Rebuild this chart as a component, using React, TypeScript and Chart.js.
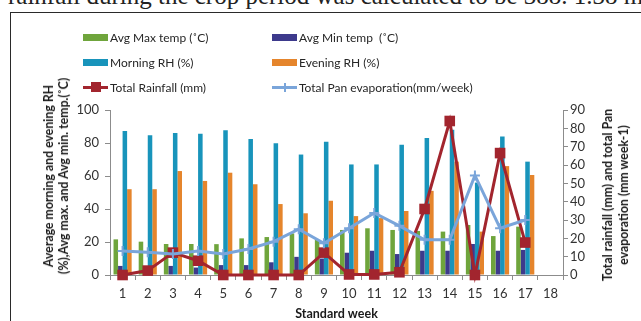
import React, { useEffect, useRef } from "react";
import { Chart, registerables } from "chart.js";

Chart.register(...registerables);

// ---- data ----
const weeks = ["1", "2", "3", "4", "5", "6", "7", "8", "9", "10", "11", "12", "13", "14", "15", "16", "17", "18"];
const avgMaxTemp = [21.6, 20.2, 18.8, 18.8, 18.7, 22.2, 23, 25.2, 21.2, 27.3, 28.3, 27.3, 26.7, 26.3, 30.3, 23.6, 29.3, null];
const avgMinTemp = [5.5, 5, 5.5, 4.5, 6, 6, 7.7, 11, 10, 13.5, 14.7, 12.7, 14.7, 14.7, 18.8, 14.7, 15.2, null];
const morningRH = [87.3, 84.7, 86, 85.6, 87.7, 82.4, 79.8, 73, 80.8, 67, 67, 79, 83, 88, 56, 84, 68.7, null];
const eveningRH = [52, 52, 63, 57, 62, 55, 43, 37.4, 45, 35.7, 34.5, 38.8, 51, 68.7, 26.3, 66, 60.6, null];
const totalRainfall = [0, 2.4, 12.2, 7.8, 0, 0, 0, 0, 12.2, 0.3, 0.3, 1.5, 36, 84, 0, 66.5, 17.7, null];
const panEvaporation = [13.1, 12.4, 11.5, 13.1, 11.5, 14.2, 18.2, 25, 17.3, 25.5, 33.8, 26.8, 19.2, 19.2, 54.3, 25.5, 30, null];
const leftTicks = [0, 20, 40, 60, 80, 100];
const rightTicks = [0, 10, 20, 30, 40, 50, 60, 70, 80, 90];

const FONT = "Lato, 'Open Sans', sans-serif";
const COLORS = {
  maxT: "#6fa53c",
  minT: "#3d3a8c",
  morn: "#1894bb",
  eve: "#e5852c",
  rain: "#a2252e",
  pan: "#7aa5da",
  axis: "#8c8c8c",
  text: "#333333",
};

type LegendItem = { label: string; color: string; kind: "bar" | "rect" | "cross" };
const legendItems: LegendItem[] = [
  { label: "Avg Max temp (˚C)", color: COLORS.maxT, kind: "bar" },
  { label: "Avg Min temp  (˚C)", color: COLORS.minT, kind: "bar" },
  { label: "Morning RH (%)", color: COLORS.morn, kind: "bar" },
  { label: "Evening RH (%)", color: COLORS.eve, kind: "bar" },
  { label: "Total Rainfall (mm)", color: COLORS.rain, kind: "rect" },
  { label: "Total Pan evaporation(mm/week)", color: COLORS.pan, kind: "cross" },
];

function Swatch({ item }: { item: LegendItem }) {
  if (item.kind === "bar") {
    return <div style={{ width: 25, height: 7, background: item.color }} />;
  }
  return (
    <div style={{ position: "relative", width: 25, height: 14 }}>
      <div style={{ position: "absolute", left: 0, top: 5.5, width: 25, height: 3, background: item.color }} />
      {item.kind === "rect" ? (
        <div style={{ position: "absolute", left: 7.5, top: 2, width: 10, height: 10, background: item.color }} />
      ) : (
        <>
          <div style={{ position: "absolute", left: 8, top: 6, width: 9, height: 2, background: item.color }} />
          <div style={{ position: "absolute", left: 11.5, top: 2.5, width: 2, height: 9, background: item.color }} />
        </>
      )}
    </div>
  );
}

export default function App() {
  const ref = useRef<HTMLCanvasElement>(null);

  useEffect(() => {
    document.body.style.margin = "0";
    const tickFont = { family: FONT, size: 13 };
    const chart = new Chart(ref.current as HTMLCanvasElement, {
      type: "bar",
      data: {
        labels: weeks,
        datasets: [
          {
            type: "line",
            label: legendItems[5].label,
            data: panEvaporation,
            yAxisID: "y1",
            borderColor: COLORS.pan,
            backgroundColor: COLORS.pan,
            borderWidth: 3,
            pointStyle: "cross",
            pointRadius: 5,
            pointBorderWidth: 2,
            pointBorderColor: COLORS.pan,
            tension: 0,
            clip: false,
            order: 0,
          } as any,
          {
            type: "line",
            label: legendItems[4].label,
            data: totalRainfall,
            yAxisID: "y1",
            borderColor: COLORS.rain,
            backgroundColor: COLORS.rain,
            borderWidth: 3,
            pointStyle: "rect",
            pointRadius: 7.5,
            pointBorderWidth: 0,
            pointBackgroundColor: COLORS.rain,
            tension: 0,
            clip: false,
            order: 1,
          } as any,
          { type: "bar", label: legendItems[0].label, data: avgMaxTemp, backgroundColor: COLORS.maxT, yAxisID: "y", order: 2 } as any,
          { type: "bar", label: legendItems[1].label, data: avgMinTemp, backgroundColor: COLORS.minT, yAxisID: "y", order: 2 } as any,
          { type: "bar", label: legendItems[2].label, data: morningRH, backgroundColor: COLORS.morn, yAxisID: "y", order: 2 } as any,
          { type: "bar", label: legendItems[3].label, data: eveningRH, backgroundColor: COLORS.eve, yAxisID: "y", order: 2 } as any,
        ],
      },
      options: {
        animation: false,
        responsive: false,
        events: [],
        layout: { padding: { top: 110, left: 0, right: 0, bottom: 0 } },
        datasets: {
          bar: { categoryPercentage: 0.72, barPercentage: 1, borderWidth: 0 },
        } as any,
        plugins: { legend: { display: false }, tooltip: { enabled: false } },
        scales: {
          x: {
            offset: true,
            grid: { display: true, drawOnChartArea: false, drawTicks: true, tickLength: 5, color: COLORS.axis, offset: true },
            border: { display: true, color: COLORS.axis, width: 1 },
            ticks: { font: tickFont, color: COLORS.text, padding: 6, maxRotation: 0, autoSkip: false },
            title: {
              display: true,
              text: "Standard week",
              font: { family: FONT, size: 12.5, weight: "bold" },
              color: "#1a1a1a",
              padding: { top: 0, bottom: 0 },
            },
            afterFit: (s: any) => {
              s.height = 46;
            },
          },
          y: {
            position: "left",
            min: 0,
            max: 100,
            afterBuildTicks: (s: any) => {
              s.ticks = leftTicks.map((v) => ({ value: v }));
            },
            grid: { display: true, drawOnChartArea: false, drawTicks: true, tickLength: 5, color: COLORS.axis },
            border: { display: true, color: COLORS.axis, width: 1 },
            ticks: { font: tickFont, color: COLORS.text, padding: 6, autoSkip: false },
            afterFit: (s: any) => {
              s.width = 110;
            },
          },
          y1: {
            position: "right",
            min: 0,
            max: 90,
            afterBuildTicks: (s: any) => {
              s.ticks = rightTicks.map((v) => ({ value: v }));
            },
            grid: { display: true, drawOnChartArea: false, drawTicks: true, tickLength: 5, color: COLORS.axis },
            border: { display: true, color: COLORS.axis, width: 1 },
            ticks: { font: tickFont, color: COLORS.text, padding: 2, autoSkip: false },
            afterFit: (s: any) => {
              s.width = 78;
            },
          },
        },
      } as any,
    });
    return () => chart.destroy();
  }, []);

  const colX = [83, 272];
  const rowY = [37, 62, 87];

  return (
    <div
      style={{
        position: "absolute",
        left: 0,
        top: 0,
        width: 641,
        height: 321,
        overflow: "hidden",
        background: "#fff",
        fontFamily: FONT,
      }}
    >
      <div
        style={{
          position: "absolute",
          left: 8,
          top: -17,
          whiteSpace: "nowrap",
          fontFamily: "'Liberation Serif', 'Times New Roman', serif",
          fontSize: 25,
          lineHeight: "25px",
          color: "#222",
        }}
      >
        rainfall during the crop period was calculated to be 388. 1.38 mm
      </div>
      <div
        style={{
          position: "absolute",
          left: 10,
          top: 12,
          width: 700,
          height: 400,
          borderLeft: "1px solid #2a2a2a",
          borderTop: "1px solid #2a2a2a",
          background: "#fff",
        }}
      />
      <canvas ref={ref} width={641} height={321} style={{ position: "absolute", left: 0, top: 0, display: "block" }} />
      {legendItems.map((item, i) => (
        <div
          key={item.label}
          style={{
            position: "absolute",
            left: colX[i % 2],
            top: rowY[Math.floor(i / 2)] - 8,
            height: 16,
            display: "flex",
            alignItems: "center",
            whiteSpace: "pre",
            fontSize: 12,
            color: "#262626",
          }}
        >
          <Swatch item={item} />
          <span style={{ marginLeft: 2 }}>{item.label}</span>
        </div>
      ))}
      <div
        style={{
          position: "absolute",
          left: 56,
          top: 176,
          transform: "translate(-50%, -50%) rotate(-90deg)",
          whiteSpace: "nowrap",
          textAlign: "center",
          fontWeight: "bold",
          fontSize: 12.3,
          lineHeight: "15px",
          color: "#1a1a1a",
        }}
      >
        Average morning and evening RH
        <br />
        (%),Avg max. and Avg min. temp.(˚C)
      </div>
      <div
        style={{
          position: "absolute",
          left: 616,
          top: 195,
          transform: "translate(-50%, -50%) rotate(-90deg)",
          whiteSpace: "nowrap",
          textAlign: "center",
          fontWeight: "bold",
          fontSize: 12.3,
          lineHeight: "16px",
          color: "#1a1a1a",
        }}
      >
        Total rainfall (mm) and total Pan
        <br />
        evaporation (mm week-1)
      </div>
    </div>
  );
}
